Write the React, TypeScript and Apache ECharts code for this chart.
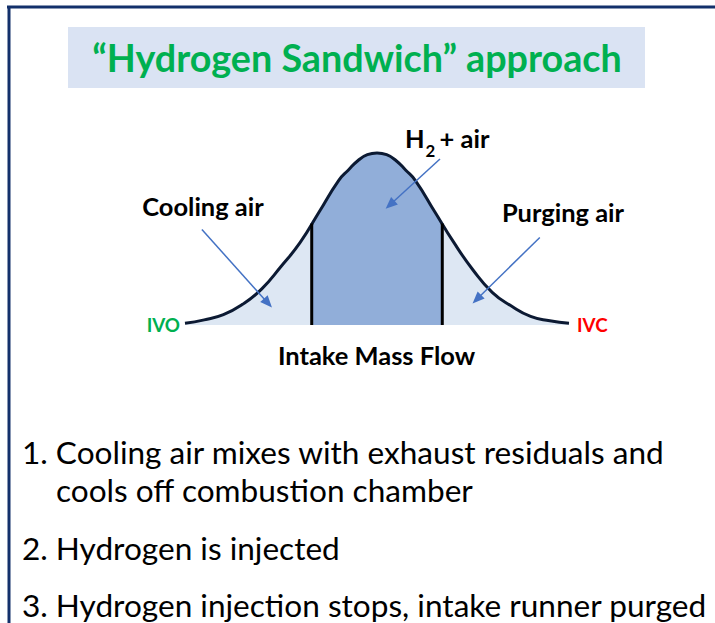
import React, { useEffect, useRef } from "react";
import * as echarts from "echarts";

// Intake mass-flow profile (x: % of intake event, y: relative mass flow)
const massFlowX = [0, 5, 10, 15, 20, 25, 30, 35, 40, 42.5, 45, 47.5, 50, 52.5, 55, 57.5, 60, 65, 70, 75, 80, 85, 90, 95, 100];
const massFlowY = [1, 3, 6, 12, 21, 34, 48, 66, 84, 90, 95.5, 99, 100, 99, 95.5, 90, 84, 66, 48, 32, 19, 11, 5, 2.5, 1];

// Hydrogen injection window (start / end of injection) and curve height there
const injectionBounds = [33, 67];
const injectionBoundHeights = [59, 59];

// Annotation arrows (data coordinates)
const arrowStartX = [4.4, 66.4, 92.4];
const arrowStartY = [55.5, 96.5, 50.9];
const arrowEndX = [21.6, 53.4, 76.0];
const arrowEndY = [12.7, 69.9, 15.0];

const titleText = "“Hydrogen Sandwich” approach";
const coolingLabel = "Cooling air";
const purgingLabel = "Purging air";
const axisTitle = "Intake Mass Flow";
const ivoLabel = "IVO";
const ivcLabel = "IVC";
const listLines = [
  "1. Cooling air mixes with exhaust residuals and",
  "cools off combustion chamber",
  "2. Hydrogen is injected",
  "3. Hydrogen injection stops, intake runner purged",
];

const FONT = "Lato";

function measure(text: string, weight: string, size: number): number {
  const c = document.createElement("canvas");
  const ctx = c.getContext("2d");
  if (!ctx) return text.length * size * 0.5;
  ctx.font = `${weight} ${size}px ${FONT}`;
  return ctx.measureText(text).width;
}

function fit(text: string, weight: string, target: number): number {
  const base = 40;
  return (base * target) / measure(text, weight, base);
}

export default function App() {
  const ref = useRef<HTMLDivElement>(null);

  useEffect(() => {
    if (!ref.current) return;
    const chart = echarts.init(ref.current, undefined, { renderer: "svg" });

    const titleSize = fit(titleText, "bold", 530);
    const labelSize =
      (fit(coolingLabel, "bold", 121) + fit(purgingLabel, "bold", 123) + fit(axisTitle, "bold", 197)) / 3;
    const listSize = (fit(listLines[0], "normal", 642) + fit(listLines[3], "normal", 686)) / 2;
    const ivSize = (fit(ivoLabel, "bold", 33) + fit(ivcLabel, "bold", 31)) / 2;
    const hWidth = measure("H", "bold", labelSize);

    const curveData = massFlowX.map((x, i) => [x, massFlowY[i]]);

    const arrows = arrowStartX.map((x, i) => [
      { coord: [x, arrowStartY[i]] },
      { coord: [arrowEndX[i], arrowEndY[i]] },
    ]);

    const txt = (
      text: string,
      x: number,
      y: number,
      size: number,
      opts: { weight?: string; color?: string; align?: string } = {}
    ) => ({
      type: "text",
      x,
      y,
      silent: true,
      style: {
        text,
        fontFamily: FONT,
        fontSize: size,
        fontWeight: opts.weight || "normal",
        fill: opts.color || "#000000",
        textAlign: opts.align || "left",
        textVerticalAlign: "middle",
      },
    });

    const boundLine = (i: number) => ({
      type: "line",
      data: [
        [injectionBounds[i], 0],
        [injectionBounds[i], injectionBoundHeights[i]],
      ],
      symbol: "none",
      clip: false,
      lineStyle: { color: "#000000", width: 3 },
      z: 4,
    });

    const hX = 405;
    const subX = hX + hWidth + 1;

    chart.setOption({
      animation: false,
      backgroundColor: "#ffffff",
      grid: { left: 185, right: 146, top: 153, bottom: 298 },
      xAxis: { type: "value", min: 0, max: 100, show: false },
      yAxis: { type: "value", min: 0, max: 100, show: false },
      visualMap: {
        type: "piecewise",
        show: false,
        dimension: 0,
        seriesIndex: 0,
        pieces: [{ gt: injectionBounds[0], lt: injectionBounds[1], color: "#91aed9" }],
        outOfRange: { color: "#dde7f3" },
      },
      series: [
        {
          type: "line",
          data: curveData,
          smooth: 0.5,
          symbol: "none",
          clip: false,
          lineStyle: { color: "#0c1a33", width: 3 },
          areaStyle: { opacity: 1 },
          z: 3,
        },
        {
          ...boundLine(0),
          markLine: {
            silent: true,
            symbol: ["none", "triangle"],
            symbolSize: [10, 12],
            label: { show: false },
            lineStyle: { color: "#4472c4", width: 1.5, type: "solid" },
            data: arrows,
            z: 5,
          },
        },
        boundLine(1),
      ],
      graphic: [
        {
          type: "line",
          silent: true,
          shape: { x1: 7, y1: 7, x2: 715, y2: 7 },
          style: { stroke: "#13306b", lineWidth: 3 },
        },
        {
          type: "line",
          silent: true,
          shape: { x1: 9, y1: 6, x2: 9, y2: 623 },
          style: { stroke: "#13306b", lineWidth: 3 },
        },
        {
          type: "rect",
          silent: true,
          shape: { x: 68, y: 27, width: 577, height: 61 },
          style: { fill: "#dae3f3" },
        },
        txt(titleText, 357, 57, titleSize, { weight: "bold", color: "#00b050", align: "center" }),
        txt(coolingLabel, 203, 206, labelSize, { weight: "bold", align: "center" }),
        txt(purgingLabel, 563, 212, labelSize, { weight: "bold", align: "center" }),
        txt("H", hX, 138, labelSize, { weight: "bold" }),
        txt("2", subX, 150, labelSize * 0.66, { weight: "bold" }),
        txt("+ air", subX + 14, 138, labelSize, { weight: "bold" }),
        txt(axisTitle, 376.5, 355, labelSize, { weight: "bold", align: "center" }),
        txt(ivoLabel, 180, 324, ivSize, { weight: "bold", color: "#00b050", align: "right" }),
        txt(ivcLabel, 577, 324, ivSize, { weight: "bold", color: "#ff0000" }),
        txt(listLines[0], 22, 452, listSize),
        txt(listLines[1], 56, 490, listSize),
        txt(listLines[2], 22, 548, listSize),
        txt(listLines[3], 22, 605, listSize),
      ],
    });

    return () => chart.dispose();
  }, []);

  return (
    <div
      ref={ref}
      style={{ position: "fixed", left: 0, top: 0, width: 715, height: 623, background: "#ffffff" }}
    />
  );
}
